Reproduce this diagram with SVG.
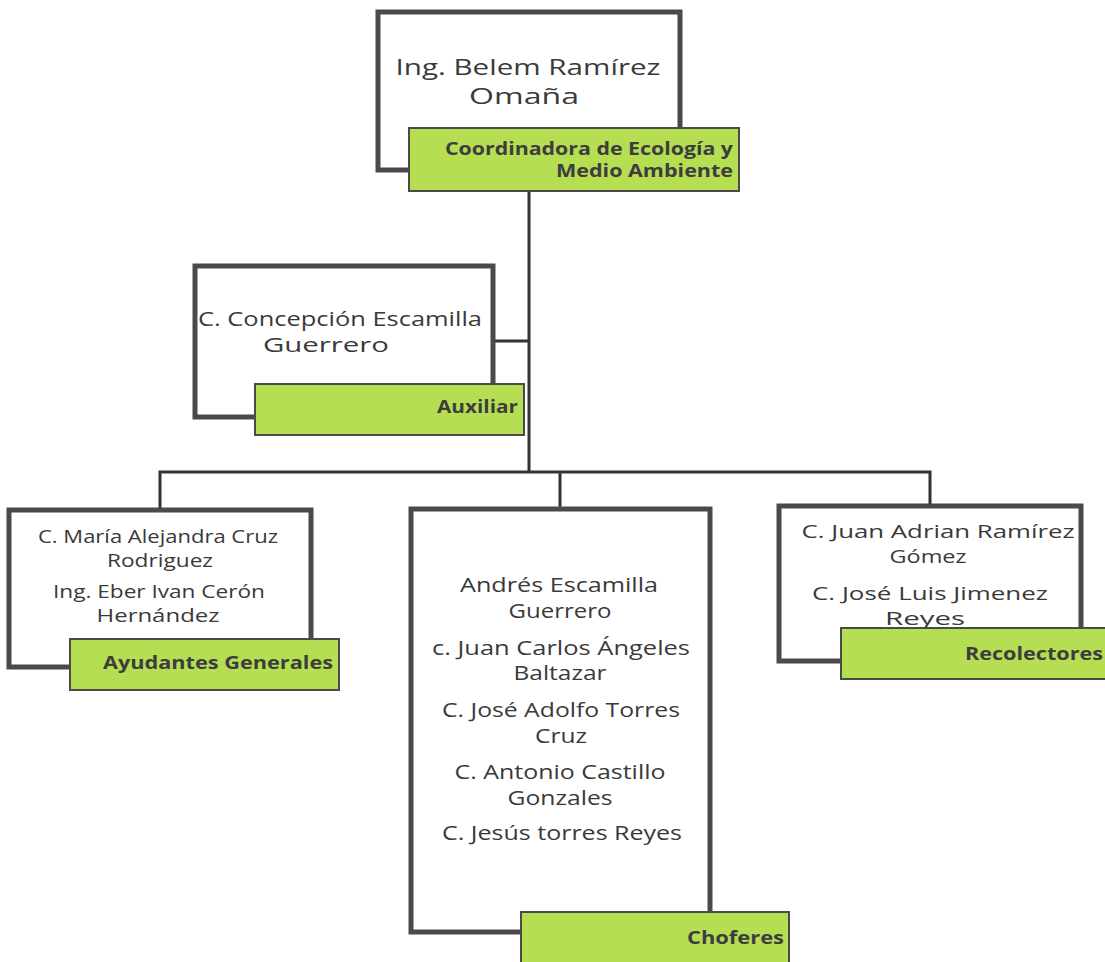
<svg xmlns="http://www.w3.org/2000/svg" width="1105" height="962" viewBox="0 0 1105 962">
<style>
.frame{fill:#fff;stroke:#4a4a4a;stroke-width:5}
.tag{fill:#b5de52;stroke:#4a4a4a;stroke-width:2}
.name{font-family:"Open Sans","Liberation Sans",sans-serif;fill:#3a3a3a;text-anchor:middle}
.lbl{font-family:"Open Sans","Liberation Sans",sans-serif;font-weight:bold;fill:#3d3d3d;text-anchor:end;font-size:18px}
.conn{stroke:#333;stroke-width:3;fill:none}
</style>
<rect width="1105" height="962" fill="#fff"/>
<g id="connectors">
<line class="conn" x1="529" y1="192" x2="529" y2="472"/>
<line class="conn" x1="494" y1="341" x2="529" y2="341"/>
<polyline class="conn" points="160,509 160,472 930,472 930,505"/>
<line class="conn" x1="560" y1="472" x2="560" y2="508"/>
</g>
<g id="node-coordinadora">
<rect class="frame" x="378" y="12" width="302" height="158"/>
<text class="name" x="528" y="75" font-size="22" textLength="265" lengthAdjust="spacingAndGlyphs">Ing. Belem Ramírez</text>
<text class="name" x="524" y="104" font-size="22" textLength="110" lengthAdjust="spacingAndGlyphs">Omaña</text>
<rect class="tag" x="409" y="128" width="330" height="63"/>
<text class="lbl" x="733" y="155" textLength="288" lengthAdjust="spacingAndGlyphs">Coordinadora de Ecología y</text>
<text class="lbl" x="733" y="177" textLength="177" lengthAdjust="spacingAndGlyphs">Medio Ambiente</text>
</g>
<g id="node-auxiliar">
<rect class="frame" x="195" y="266" width="298" height="151"/>
<text class="name" x="340" y="326" font-size="20" textLength="284" lengthAdjust="spacingAndGlyphs">C. Concepción Escamilla</text>
<text class="name" x="326" y="352" font-size="20" textLength="126" lengthAdjust="spacingAndGlyphs">Guerrero</text>
<rect class="tag" x="255" y="384" width="269" height="51"/>
<text class="lbl" x="518" y="413" textLength="81" lengthAdjust="spacingAndGlyphs">Auxiliar</text>
</g>
<g id="node-ayudantes">
<rect class="frame" x="9" y="510" width="302" height="157"/>
<text class="name" x="158" y="543" font-size="18" textLength="240" lengthAdjust="spacingAndGlyphs">C. María Alejandra Cruz</text>
<text class="name" x="160" y="567" font-size="18" textLength="106" lengthAdjust="spacingAndGlyphs">Rodriguez</text>
<text class="name" x="159" y="598" font-size="18" textLength="212" lengthAdjust="spacingAndGlyphs">Ing. Eber Ivan Cerón</text>
<text class="name" x="158" y="622" font-size="18" textLength="123" lengthAdjust="spacingAndGlyphs">Hernández</text>
<rect class="tag" x="70" y="639" width="269" height="51"/>
<text class="lbl" x="333" y="669" textLength="230" lengthAdjust="spacingAndGlyphs">Ayudantes Generales</text>
</g>
<g id="node-choferes">
<rect class="frame" x="411" y="509" width="299" height="423"/>
<text class="name" x="559" y="592" font-size="20" textLength="198" lengthAdjust="spacingAndGlyphs">Andrés Escamilla</text>
<text class="name" x="560" y="618" font-size="20" textLength="103" lengthAdjust="spacingAndGlyphs">Guerrero</text>
<text class="name" x="561" y="655" font-size="20" textLength="258" lengthAdjust="spacingAndGlyphs">c. Juan Carlos Ángeles</text>
<text class="name" x="560" y="680" font-size="20" textLength="93" lengthAdjust="spacingAndGlyphs">Baltazar</text>
<text class="name" x="561" y="717" font-size="20" textLength="238" lengthAdjust="spacingAndGlyphs">C. José Adolfo Torres</text>
<text class="name" x="561" y="743" font-size="20" textLength="52" lengthAdjust="spacingAndGlyphs">Cruz</text>
<text class="name" x="560" y="779" font-size="20" textLength="211" lengthAdjust="spacingAndGlyphs">C. Antonio Castillo</text>
<text class="name" x="560" y="805" font-size="20" textLength="105" lengthAdjust="spacingAndGlyphs">Gonzales</text>
<text class="name" x="562" y="840" font-size="20" textLength="240" lengthAdjust="spacingAndGlyphs">C. Jesús torres Reyes</text>
<rect class="tag" x="521" y="912" width="268" height="52"/>
<text class="lbl" x="784" y="944" textLength="97" lengthAdjust="spacingAndGlyphs">Choferes</text>
</g>
<g id="node-recolectores">
<rect class="frame" x="779" y="506" width="302" height="155"/>
<text class="name" x="938" y="538" font-size="19" textLength="273" lengthAdjust="spacingAndGlyphs">C. Juan Adrian Ramírez</text>
<text class="name" x="928" y="563" font-size="19" textLength="77" lengthAdjust="spacingAndGlyphs">Gómez</text>
<text class="name" x="930" y="600" font-size="19" textLength="236" lengthAdjust="spacingAndGlyphs">C. José Luis Jimenez</text>
<text class="name" x="925" y="625" font-size="19" textLength="80" lengthAdjust="spacingAndGlyphs">Reyes</text>
<rect class="tag" x="841" y="628" width="270" height="51"/>
<text class="lbl" x="1103" y="660" textLength="138" lengthAdjust="spacingAndGlyphs">Recolectores</text>
</g>
</svg>
